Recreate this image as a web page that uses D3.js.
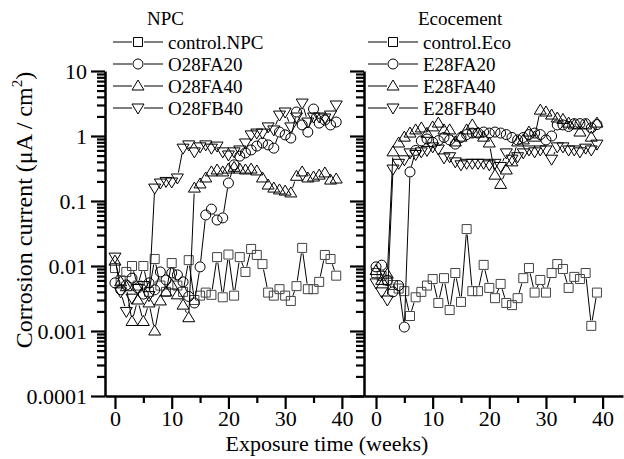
<!DOCTYPE html>
<html>
<head>
<meta charset="utf-8">
<script src="https://cdn.jsdelivr.net/npm/d3@7"></script>
<style>
  body { margin: 0; background: #fff; }
  svg text { font-family: "Liberation Serif", "Times New Roman", serif; fill: #000; }
</style>
</head>
<body>
<div id="chart"></div>
<script>
// weeks of exposure, one reading per week
const weeks = [0,1,2,3,4,5,6,7,8,9,10,11,12,13,14,15,16,17,18,19,
               20,21,22,23,24,25,26,27,28,29,30,31,32,33,34,35,36,37,38,39];

// NPC panel (uA/cm2)
const npcControl = [0.0093,0.006,0.0081,0.010,0.005,0.010,0.004,0.0128,0.005,0.004,
                    0.0111,0.005,0.004,0.0123,0.003,0.0035,0.0039,0.0036,0.0137,0.0033,
                    0.0150,0.0035,0.0137,0.0081,0.0183,0.0148,0.0107,0.0039,0.0035,0.0044,
                    0.0035,0.0029,0.0049,0.0190,0.0044,0.0044,0.0057,0.0148,0.0128,0.0071];
const npcFA20 = [0.0055,0.0043,0.0051,0.0065,0.0046,0.0037,0.0055,0.0043,0.0081,0.0061,
                 0.0078,0.0073,0.0057,0.0034,0.0027,0.0097,0.061,0.075,0.051,0.055,
                 0.189,0.36,0.49,0.55,0.61,0.70,0.78,0.73,0.65,1.15,
                 1.04,0.93,2.34,1.48,1.15,2.60,1.58,1.76,1.48,1.64];
const npcFA40 = [0.0119,0.0057,0.0048,0.0014,0.0030,0.0014,0.0027,0.0010,0.0029,0.0040,
                 0.0051,0.0036,0.0025,0.0016,0.158,0.183,0.226,0.28,0.30,0.28,
                 0.31,0.33,0.31,0.30,0.31,0.29,0.226,0.176,0.158,0.148,
                 0.142,0.133,0.24,0.28,0.226,0.234,0.25,0.27,0.21,0.218];
const npcFB40 = [0.0137,0.0040,0.0020,0.0032,0.0045,0.0050,0.0035,0.158,0.189,0.20,
                 0.196,0.226,0.65,0.73,0.57,0.68,0.73,0.65,0.70,0.57,
                 0.51,0.57,0.61,0.78,1.04,1.11,1.11,1.38,1.24,2.10,
                 2.34,1.38,1.96,3.21,1.64,1.96,1.96,1.89,2.10,3.0];

// Ecocement panel (uA/cm2)
const ecoControl = [0.0078,0.0070,0.0060,0.0051,0.0045,0.0041,0.0017,0.0033,0.0040,0.0050,
                    0.0063,0.0027,0.0065,0.0021,0.0078,0.0028,0.037,0.0041,0.0041,0.0104,
                    0.0046,0.0032,0.0053,0.0027,0.0025,0.0032,0.0065,0.0093,0.0039,0.0061,
                    0.0039,0.0078,0.0107,0.0090,0.0046,0.0068,0.0063,0.0078,0.0012,0.0039];
const ecoFA20 = [0.0097,0.0103,0.006,0.0040,0.0050,0.00115,0.28,0.60,0.84,0.90,
                 0.80,0.85,0.95,0.87,0.75,0.95,1.05,1.11,1.11,1.15,
                 1.11,1.15,1.11,1.05,0.95,0.87,0.95,1.05,1.11,1.05,
                 0.87,1.0,1.48,1.48,1.40,1.55,1.55,1.55,1.33,1.50];
const ecoFA40 = [0.0085,0.0060,0.0075,0.57,0.78,0.96,1.11,1.24,1.33,1.10,
                 1.38,1.58,1.24,1.24,0.81,0.96,1.24,1.48,1.11,0.96,
                 0.78,0.25,0.18,0.30,0.40,0.81,0.87,1.15,0.96,2.50,
                 2.34,2.10,1.89,1.80,1.58,1.48,1.15,1.48,0.96,1.58];
const ecoFB40 = [0.0055,0.0040,0.0030,0.31,0.38,0.43,0.55,0.52,0.57,0.60,
                 0.68,0.63,0.46,0.48,0.40,0.36,0.38,0.38,0.38,0.38,
                 0.36,0.38,0.34,0.55,0.44,0.48,0.55,0.61,0.57,0.61,
                 0.61,0.44,0.68,0.68,0.61,0.61,0.57,0.65,0.61,0.75];

const npcLabels = ["control.NPC", "O28FA20", "O28FA40", "O28FB40"];
const ecoLabels = ["control.Eco", "E28FA20", "E28FA40", "E28FB40"];
const shapes = ["square", "circle", "up", "down"];
const yMajor = [0.0001, 0.001, 0.01, 0.1, 1, 10];
const xMajor = [0, 10, 20, 30, 40];
const xMinor = [5, 15, 25, 35];

const W = 624, H = 459;
const svg = d3.select("#chart").append("svg").attr("width", W).attr("height", H);

const y = d3.scaleLog().domain([1e-4, 10]).range([396, 71]);
const xL = d3.scaleLinear().domain([-1.76, 43.9]).range([105, 364]);
const xR = d3.scaleLinear().domain([-2.12, 43.6]).range([364, 623]);

// minor log ticks 2..9 in each decade
const yMinor = [];
yMajor.slice(0, -1).forEach(d => { for (let k = 2; k <= 9; k++) yMinor.push(d * k); });

function fmtY(d) {
  return d >= 1 ? String(d) : d.toFixed(Math.round(-Math.log10(d)));
}

function styleAxis(g) {
  g.selectAll("path.domain").attr("stroke", "#000").attr("stroke-width", 2.5);
  g.selectAll(".tick line").attr("stroke", "#000").attr("stroke-width", 2.2);
  g.selectAll("text").attr("font-size", 22).attr("font-family", "Liberation Serif, serif");
}

function drawPanel(x, showLabels) {
  const left = x.range()[0];
  // y axis
  const ya = svg.append("g").attr("transform", `translate(${left},0)`)
    .call(d3.axisLeft(y).tickValues(yMajor).tickSize(14).tickSizeOuter(0).tickPadding(4)
      .tickFormat(showLabels ? fmtY : ""));
  styleAxis(ya);
  const ym = svg.append("g").attr("transform", `translate(${left},0)`)
    .call(d3.axisLeft(y).tickValues(yMinor).tickSize(8).tickSizeOuter(0).tickFormat(""));
  styleAxis(ym);
  ym.select("path.domain").remove();

  // x axis
  const xa = svg.append("g").attr("transform", "translate(0,396)")
    .call(d3.axisBottom(x).tickValues(xMajor).tickSize(13).tickSizeOuter(0).tickPadding(1));
  styleAxis(xa);
  const xm = svg.append("g").attr("transform", "translate(0,396)")
    .call(d3.axisBottom(x).tickValues(xMinor).tickSize(7).tickSizeOuter(0).tickFormat(""));
  styleAxis(xm);
  xm.select("path.domain").remove();
}

drawPanel(xL, true);
drawPanel(xR, false);

function markerPath(type, cx, cy) {
  if (type === "square") return `M${cx-4.5},${cy-4.5}h9v9h-9Z`;
  if (type === "circle") return `M${cx+5},${cy}A5,5 0 1,1 ${cx-5},${cy}A5,5 0 1,1 ${cx+5},${cy}Z`;
  if (type === "up") return `M${cx},${cy-6}L${cx+6},${cy+4}L${cx-6},${cy+4}Z`;
  return `M${cx},${cy+6}L${cx+6},${cy-4}L${cx-6},${cy-4}Z`;
}

// line segments with a small gap round each symbol, the way the plot shows them
function drawSeries(x, vals, type, color) {
  const pts = weeks.map((w, i) => [x(w), y(vals[i])]);
  const gap = 5.5;
  const g = svg.append("g");
  for (let i = 1; i < pts.length; i++) {
    const [x0, y0] = pts[i-1], [x1, y1] = pts[i];
    const dx = x1 - x0, dy = y1 - y0, len = Math.hypot(dx, dy);
    if (len <= 2 * gap) continue;
    const ux = dx / len, uy = dy / len;
    g.append("line")
      .attr("x1", x0 + ux * gap).attr("y1", y0 + uy * gap)
      .attr("x2", x1 - ux * gap).attr("y2", y1 - uy * gap)
      .attr("stroke", "#000").attr("stroke-width", 1);
  }
  g.selectAll("path.pt").data(pts).enter().append("path")
    .attr("class", "pt")
    .attr("d", d => markerPath(type, d[0], d[1]))
    .attr("fill", "none").attr("stroke", color).attr("stroke-width", 1);
}

const npcSeries = [npcControl, npcFA20, npcFA40, npcFB40];
const ecoSeries = [ecoControl, ecoFA20, ecoFA40, ecoFB40];
const colors = ["#444", "#000", "#000", "#000"];
npcSeries.forEach((s, i) => drawSeries(xL, s, shapes[i], colors[i]));
ecoSeries.forEach((s, i) => drawSeries(xR, s, shapes[i], colors[i]));

// legends
function drawLegend(title, titleX, sx, labels) {
  svg.append("text").attr("x", titleX).attr("y", 25).attr("font-size", 19).text(title);
  labels.forEach((lab, i) => {
    const cy = 42 + i * 22;
    const g = svg.append("g");
    g.append("line").attr("x1", sx - 25).attr("x2", sx - 6).attr("y1", cy).attr("y2", cy)
      .attr("stroke", "#000").attr("stroke-width", 1);
    g.append("line").attr("x1", sx + 6).attr("x2", sx + 25).attr("y1", cy).attr("y2", cy)
      .attr("stroke", "#000").attr("stroke-width", 1);
    g.append("path").attr("d", markerPath(shapes[i], sx, cy))
      .attr("fill", "none").attr("stroke", "#000").attr("stroke-width", 1);
    g.append("text").attr("x", sx + 30).attr("y", cy + 7).attr("font-size", 19).text(lab);
  });
}
drawLegend("NPC", 147, 138, npcLabels);
drawLegend("Ecocement", 418, 393, ecoLabels);

// axis titles
svg.append("text").attr("x", 327).attr("y", 451).attr("text-anchor", "middle")
  .attr("font-size", 22).text("Exposure time (weeks)");

const yt = svg.append("text").attr("transform", "translate(32,210) rotate(-90)")
  .attr("text-anchor", "middle").attr("font-size", 24);
yt.append("tspan").text("Corrosion current (\u03bcA / cm");
yt.append("tspan").attr("font-size", 15).attr("dy", -10).text("2");
yt.append("tspan").attr("dy", 10).text(")");
</script>
</body>
</html>
